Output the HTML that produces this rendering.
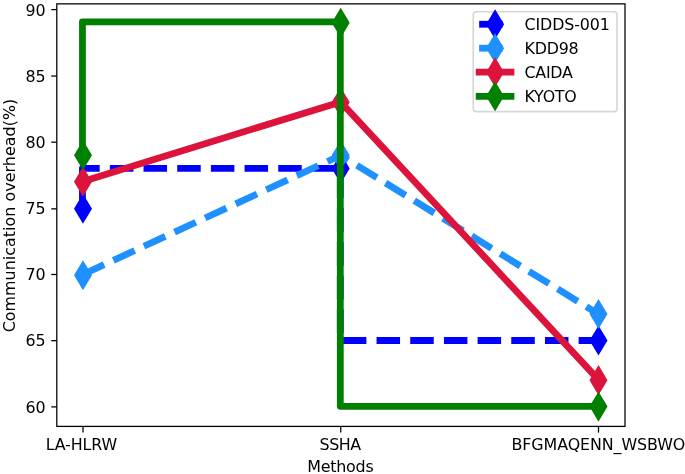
<!DOCTYPE html>
<html lang="en"><head><meta charset="utf-8"><title>Communication overhead</title>
<style>html,body{margin:0;padding:0;background:#fff}body{width:685px;height:474px;overflow:hidden}svg{display:block}text{font-family:"DejaVu Sans", "Liberation Sans", sans-serif;font-size:15.89px;fill:#000}</style>
</head><body>
<svg width="685" height="474" viewBox="0 0 685 474">
<rect width="685" height="474" fill="#fff"/>
<defs><clipPath id="ax"><rect x="56.8" y="3.85" width="568.2" height="422.15"/></clipPath></defs>
<g stroke="#000" stroke-width="1.27" fill="none">
<path d="M83 426.4V432.6"/>
<path d="M340.75 426.4V432.6"/>
<path d="M598.5 426.4V432.6"/>
<path d="M56.8 406.9H51.24"/>
<path d="M56.8 340.65H51.24"/>
<path d="M56.8 274.5H51.24"/>
<path d="M56.8 208.85H51.24"/>
<path d="M56.8 142.2H51.24"/>
<path d="M56.8 76.05H51.24"/>
<path d="M56.8 9.6H51.24"/>
</g>
<text x="81.4" y="450.46" text-anchor="middle" textLength="71.5" lengthAdjust="spacing">LA-HLRW</text>
<text x="340.35" y="450.46" text-anchor="middle" textLength="41.5" lengthAdjust="spacing">SSHA</text>
<text x="598.4" y="450.46" text-anchor="middle" textLength="173.8" lengthAdjust="spacing">BFGMAQENN_WSBWO</text>
<text x="340.45" y="472.02" text-anchor="middle" textLength="66.6" lengthAdjust="spacing">Methods</text>
<text x="45.66" y="412.64" text-anchor="end">60</text>
<text x="45.66" y="346.47" text-anchor="end">65</text>
<text x="45.66" y="280.3" text-anchor="end">70</text>
<text x="45.66" y="214.14" text-anchor="end">75</text>
<text x="45.66" y="147.97" text-anchor="end">80</text>
<text x="45.66" y="81.8" text-anchor="end">85</text>
<text x="45.66" y="15.63" text-anchor="end">90</text>
<text transform="translate(14.89 215.52) rotate(-90)" text-anchor="middle" textLength="233.6" lengthAdjust="spacing">Communication overhead(%)</text>
<g clip-path="url(#ax)">
<path d="M82.45 208.31L82.45 168.35L340.3 168.35" fill="none" stroke="#0000ff" stroke-width="6.8" stroke-linejoin="round" stroke-linecap="butt" stroke-dasharray="23.51 10.17"/>
<path d="M340.3 168.35L340.3 340.5L598.5 340.5" fill="none" stroke="#0000ff" stroke-width="6.8" stroke-linejoin="round" stroke-linecap="butt" stroke-dasharray="23.51 10.17" stroke-dashoffset="27.36"/>
<path d="M83 222.14L91.09 208.66L83 195.18L74.91 208.66Z" fill="#0000ff" stroke="#0000ff" stroke-width="1.59" stroke-linejoin="miter" stroke-miterlimit="10"/>
<path d="M340.7 181.89L348.79 168.41L340.7 154.93L332.61 168.41Z" fill="#0000ff" stroke="#0000ff" stroke-width="1.59" stroke-linejoin="miter" stroke-miterlimit="10"/>
<path d="M598.5 353.92L606.59 340.44L598.5 326.96L590.41 340.44Z" fill="#0000ff" stroke="#0000ff" stroke-width="1.59" stroke-linejoin="miter" stroke-miterlimit="10"/>
<path d="M82.8 274.48L340.7 155.37L598.6 314.18" fill="none" stroke="#1e90ff" stroke-width="6.8" stroke-linejoin="round" stroke-linecap="butt" stroke-dasharray="23.51 10.17"/>
<path d="M83 288.71L91.09 275.23L83 261.75L74.91 275.23Z" fill="#1e90ff" stroke="#1e90ff" stroke-width="1.59" stroke-linejoin="miter" stroke-miterlimit="10"/>
<path d="M340.7 168.65L348.79 155.17L340.7 141.69L332.61 155.17Z" fill="#1e90ff" stroke="#1e90ff" stroke-width="1.59" stroke-linejoin="miter" stroke-miterlimit="10"/>
<path d="M598.5 327.46L606.59 313.98L598.5 300.5L590.41 313.98Z" fill="#1e90ff" stroke="#1e90ff" stroke-width="1.59" stroke-linejoin="miter" stroke-miterlimit="10"/>
<path d="M82.8 181.39L340.7 101.99L598.6 379.89" fill="none" stroke="#dc143c" stroke-width="6.8" stroke-linejoin="round" stroke-linecap="square"/>
<path d="M83 195.12L91.09 181.64L83 168.16L74.91 181.64Z" fill="#dc143c" stroke="#dc143c" stroke-width="1.59" stroke-linejoin="miter" stroke-miterlimit="10"/>
<path d="M340.7 115.72L348.79 102.24L340.7 88.76L332.61 102.24Z" fill="#dc143c" stroke="#dc143c" stroke-width="1.59" stroke-linejoin="miter" stroke-miterlimit="10"/>
<path d="M598.5 393.62L606.59 380.14L598.5 366.66L590.41 380.14Z" fill="#dc143c" stroke="#dc143c" stroke-width="1.59" stroke-linejoin="miter" stroke-miterlimit="10"/>
<path d="M82.45 155.37L82.45 21.85L340.3 21.85L340.3 406.35L598.5 406.35" fill="none" stroke="#008000" stroke-width="6.8" stroke-linejoin="round" stroke-linecap="square"/>
<path d="M83 168.65L91.09 155.17L83 141.69L74.91 155.17Z" fill="#008000" stroke="#008000" stroke-width="1.59" stroke-linejoin="miter" stroke-miterlimit="10"/>
<path d="M340.7 36.32L348.79 22.84L340.7 9.36L332.61 22.84Z" fill="#008000" stroke="#008000" stroke-width="1.59" stroke-linejoin="miter" stroke-miterlimit="10"/>
<path d="M598.5 420.09L606.59 406.61L598.5 393.13L590.41 406.61Z" fill="#008000" stroke="#008000" stroke-width="1.59" stroke-linejoin="miter" stroke-miterlimit="10"/>
</g>
<rect x="56.8" y="3.85" width="568.2" height="422.55" fill="none" stroke="#000" stroke-width="1.27"/>
<rect x="473.25" y="11.8" width="143.79" height="99.8" rx="3.18" ry="3.18" fill="#fff" fill-opacity="0.8" stroke="#ccc" stroke-opacity="0.8" stroke-width="1.59"/>
<path d="M479.16 24.25H510.99" fill="none" stroke="#0000ff" stroke-width="6.8" stroke-dasharray="23.51 10.17"/>
<path d="M495.07 37.73L503.16 24.25L495.07 10.77L486.99 24.25Z" fill="#0000ff" stroke="#0000ff" stroke-width="1.59" stroke-linejoin="miter" stroke-miterlimit="10"/>
<text x="524.56" y="29.8" textLength="85.29" lengthAdjust="spacing">CIDDS-001</text>
<path d="M479.16 48.2H510.99" fill="none" stroke="#1e90ff" stroke-width="6.8" stroke-dasharray="23.51 10.17"/>
<path d="M495.07 61.68L503.16 48.2L495.07 34.72L486.99 48.2Z" fill="#1e90ff" stroke="#1e90ff" stroke-width="1.59" stroke-linejoin="miter" stroke-miterlimit="10"/>
<text x="524.56" y="53.75" textLength="54.1" lengthAdjust="spacing">KDD98</text>
<path d="M479.16 72.2H510.99" fill="none" stroke="#dc143c" stroke-width="6.8" stroke-linecap="square"/>
<path d="M495.07 85.68L503.16 72.2L495.07 58.72L486.99 72.2Z" fill="#dc143c" stroke="#dc143c" stroke-width="1.59" stroke-linejoin="miter" stroke-miterlimit="10"/>
<text x="524.56" y="77.75" textLength="48.27" lengthAdjust="spacing">CAIDA</text>
<path d="M479.16 96.3H510.99" fill="none" stroke="#008000" stroke-width="6.8" stroke-linecap="square"/>
<path d="M495.07 109.78L503.16 96.3L495.07 82.82L486.99 96.3Z" fill="#008000" stroke="#008000" stroke-width="1.59" stroke-linejoin="miter" stroke-miterlimit="10"/>
<text x="524.56" y="101.85" textLength="52.2" lengthAdjust="spacing">KYOTO</text>
</svg>
</body></html>
